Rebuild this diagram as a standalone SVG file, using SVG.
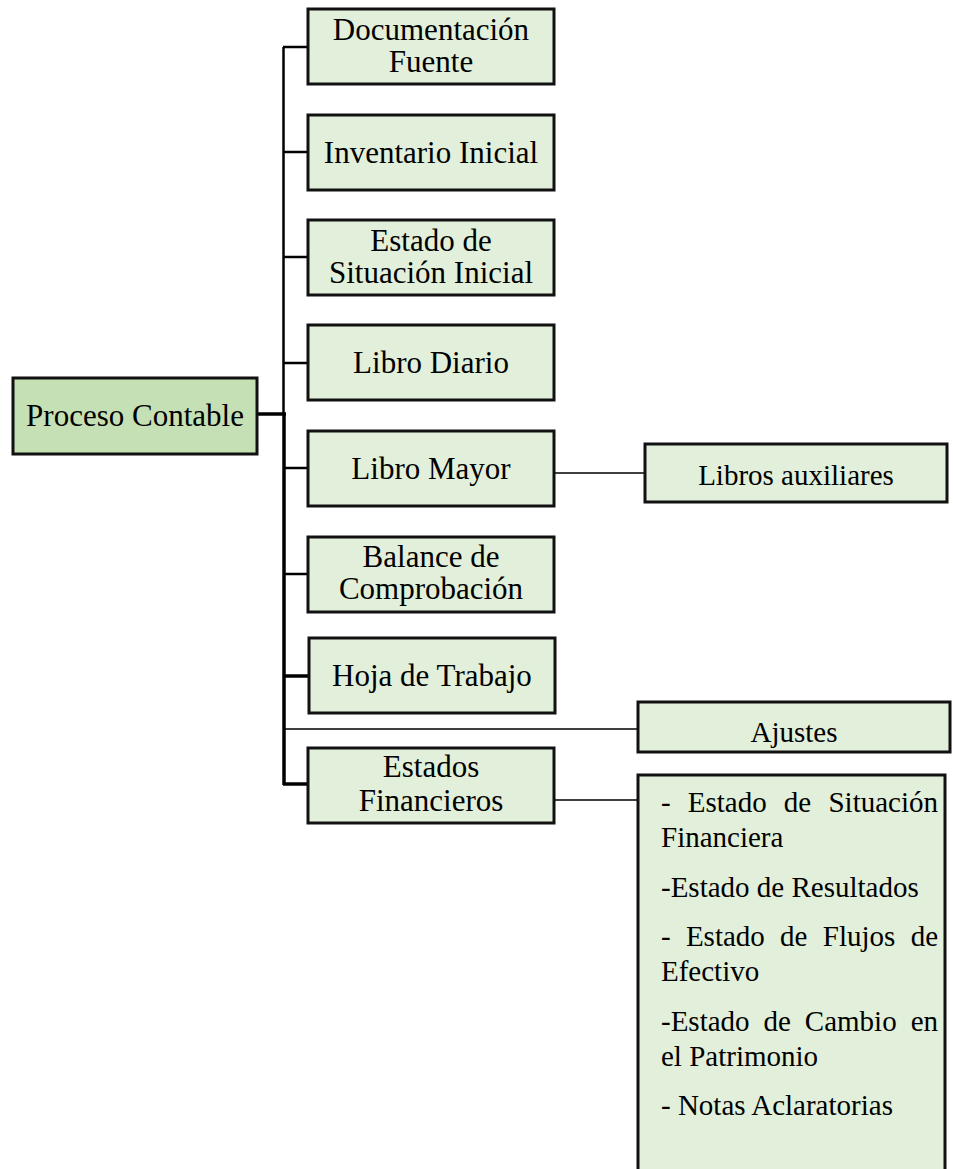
<svg xmlns="http://www.w3.org/2000/svg" width="953" height="1169" viewBox="0 0 953 1169">
<style>
.box{fill:#E2EFDA;stroke:#111;stroke-width:3}
.root{fill:#C5E0B4;stroke:#111;stroke-width:3}
.t{font-family:"Liberation Serif","Times New Roman",serif;font-size:31px;fill:#000;text-anchor:middle}
.s{font-family:"Liberation Serif","Times New Roman",serif;font-size:29px;fill:#000;text-anchor:middle}
.l{font-family:"Liberation Serif","Times New Roman",serif;font-size:29px;fill:#000}
.thin{stroke:#000;stroke-width:1.5;fill:none}
.mid{stroke:#000;stroke-width:2.5;fill:none}
.thick{stroke:#000;stroke-width:3.5;fill:none}
</style>
<rect width="953" height="1169" fill="#fff"/>
<g id="connectors">
<line class="mid" x1="283.5" y1="47" x2="283.5" y2="415"/>
<line class="thick" x1="284" y1="413" x2="284" y2="785"/>
<line class="thick" x1="257" y1="414" x2="286" y2="414"/>
<line class="mid" x1="283" y1="47" x2="308" y2="47"/>
<line class="mid" x1="283" y1="152" x2="308" y2="152"/>
<line class="mid" x1="283" y1="257" x2="308" y2="257"/>
<line class="mid" x1="283" y1="363" x2="308" y2="363"/>
<line class="mid" x1="283" y1="468" x2="308" y2="468"/>
<line class="mid" x1="283" y1="574" x2="308" y2="574"/>
<line class="thick" x1="283" y1="676" x2="308" y2="676"/>
<line class="thick" x1="283" y1="784" x2="308" y2="784"/>
<line class="thin" x1="284" y1="729" x2="638" y2="729"/>
<line class="thin" x1="554" y1="473" x2="645" y2="473"/>
<line class="thin" x1="554" y1="800" x2="638" y2="800"/>
</g>
<g id="proceso-contable">
<rect class="root" x="13" y="378" width="244" height="76"/>
<text class="t" x="135" y="426">Proceso Contable</text>
</g>
<g id="documentacion-fuente">
<rect class="box" x="308" y="9" width="246" height="75"/>
<text class="t" x="431" y="40">Documentación</text>
<text class="t" x="431" y="72">Fuente</text>
</g>
<g id="inventario-inicial">
<rect class="box" x="308" y="115" width="246" height="75"/>
<text class="t" x="431" y="163">Inventario Inicial</text>
</g>
<g id="estado-situacion-inicial">
<rect class="box" x="308" y="220" width="246" height="75"/>
<text class="t" x="431" y="251">Estado de</text>
<text class="t" x="431" y="283">Situación Inicial</text>
</g>
<g id="libro-diario">
<rect class="box" x="308" y="325" width="246" height="75"/>
<text class="t" x="431" y="373">Libro Diario</text>
</g>
<g id="libro-mayor">
<rect class="box" x="308" y="431" width="246" height="75"/>
<text class="t" x="431" y="479">Libro Mayor</text>
</g>
<g id="balance-comprobacion">
<rect class="box" x="308" y="537" width="246" height="75"/>
<text class="t" x="431" y="567">Balance de</text>
<text class="t" x="431" y="599">Comprobación</text>
</g>
<g id="hoja-trabajo">
<rect class="box" x="309" y="638" width="246" height="75"/>
<text class="t" x="432" y="686">Hoja de Trabajo</text>
</g>
<g id="estados-financieros">
<rect class="box" x="308" y="748" width="246" height="75"/>
<text class="t" x="431" y="777">Estados</text>
<text class="t" x="431" y="811">Financieros</text>
</g>
<g id="libros-auxiliares">
<rect class="box" x="645" y="444" width="302" height="58"/>
<text class="s" x="796" y="485">Libros auxiliares</text>
</g>
<g id="ajustes">
<rect class="box" x="638" y="702" width="312" height="50"/>
<text class="s" x="794" y="742">Ajustes</text>
</g>
<g id="estados-lista">
<rect class="box" x="638" y="775" width="307" height="420"/>
<text class="l" y="812"><tspan x="661">-</tspan><tspan x="687.8">Estado</tspan><tspan x="783.8">de</tspan><tspan x="938" text-anchor="end">Situación</tspan></text>
<text class="l" x="661" y="847">Financiera</text>
<text class="l" x="661" y="896.5">-Estado de Resultados</text>
<text class="l" y="946"><tspan x="661">-</tspan><tspan x="685.9">Estado</tspan><tspan x="780.1">de</tspan><tspan x="822.8">Flujos</tspan><tspan x="938" text-anchor="end">de</tspan></text>
<text class="l" x="661" y="981">Efectivo</text>
<text class="l" y="1030.5"><tspan x="661">-Estado</tspan><tspan x="763.5">de</tspan><tspan x="804.8">Cambio</tspan><tspan x="938" text-anchor="end">en</tspan></text>
<text class="l" x="661" y="1065.5">el Patrimonio</text>
<text class="l" x="661" y="1115">- Notas Aclaratorias</text>
</g>
</svg>
